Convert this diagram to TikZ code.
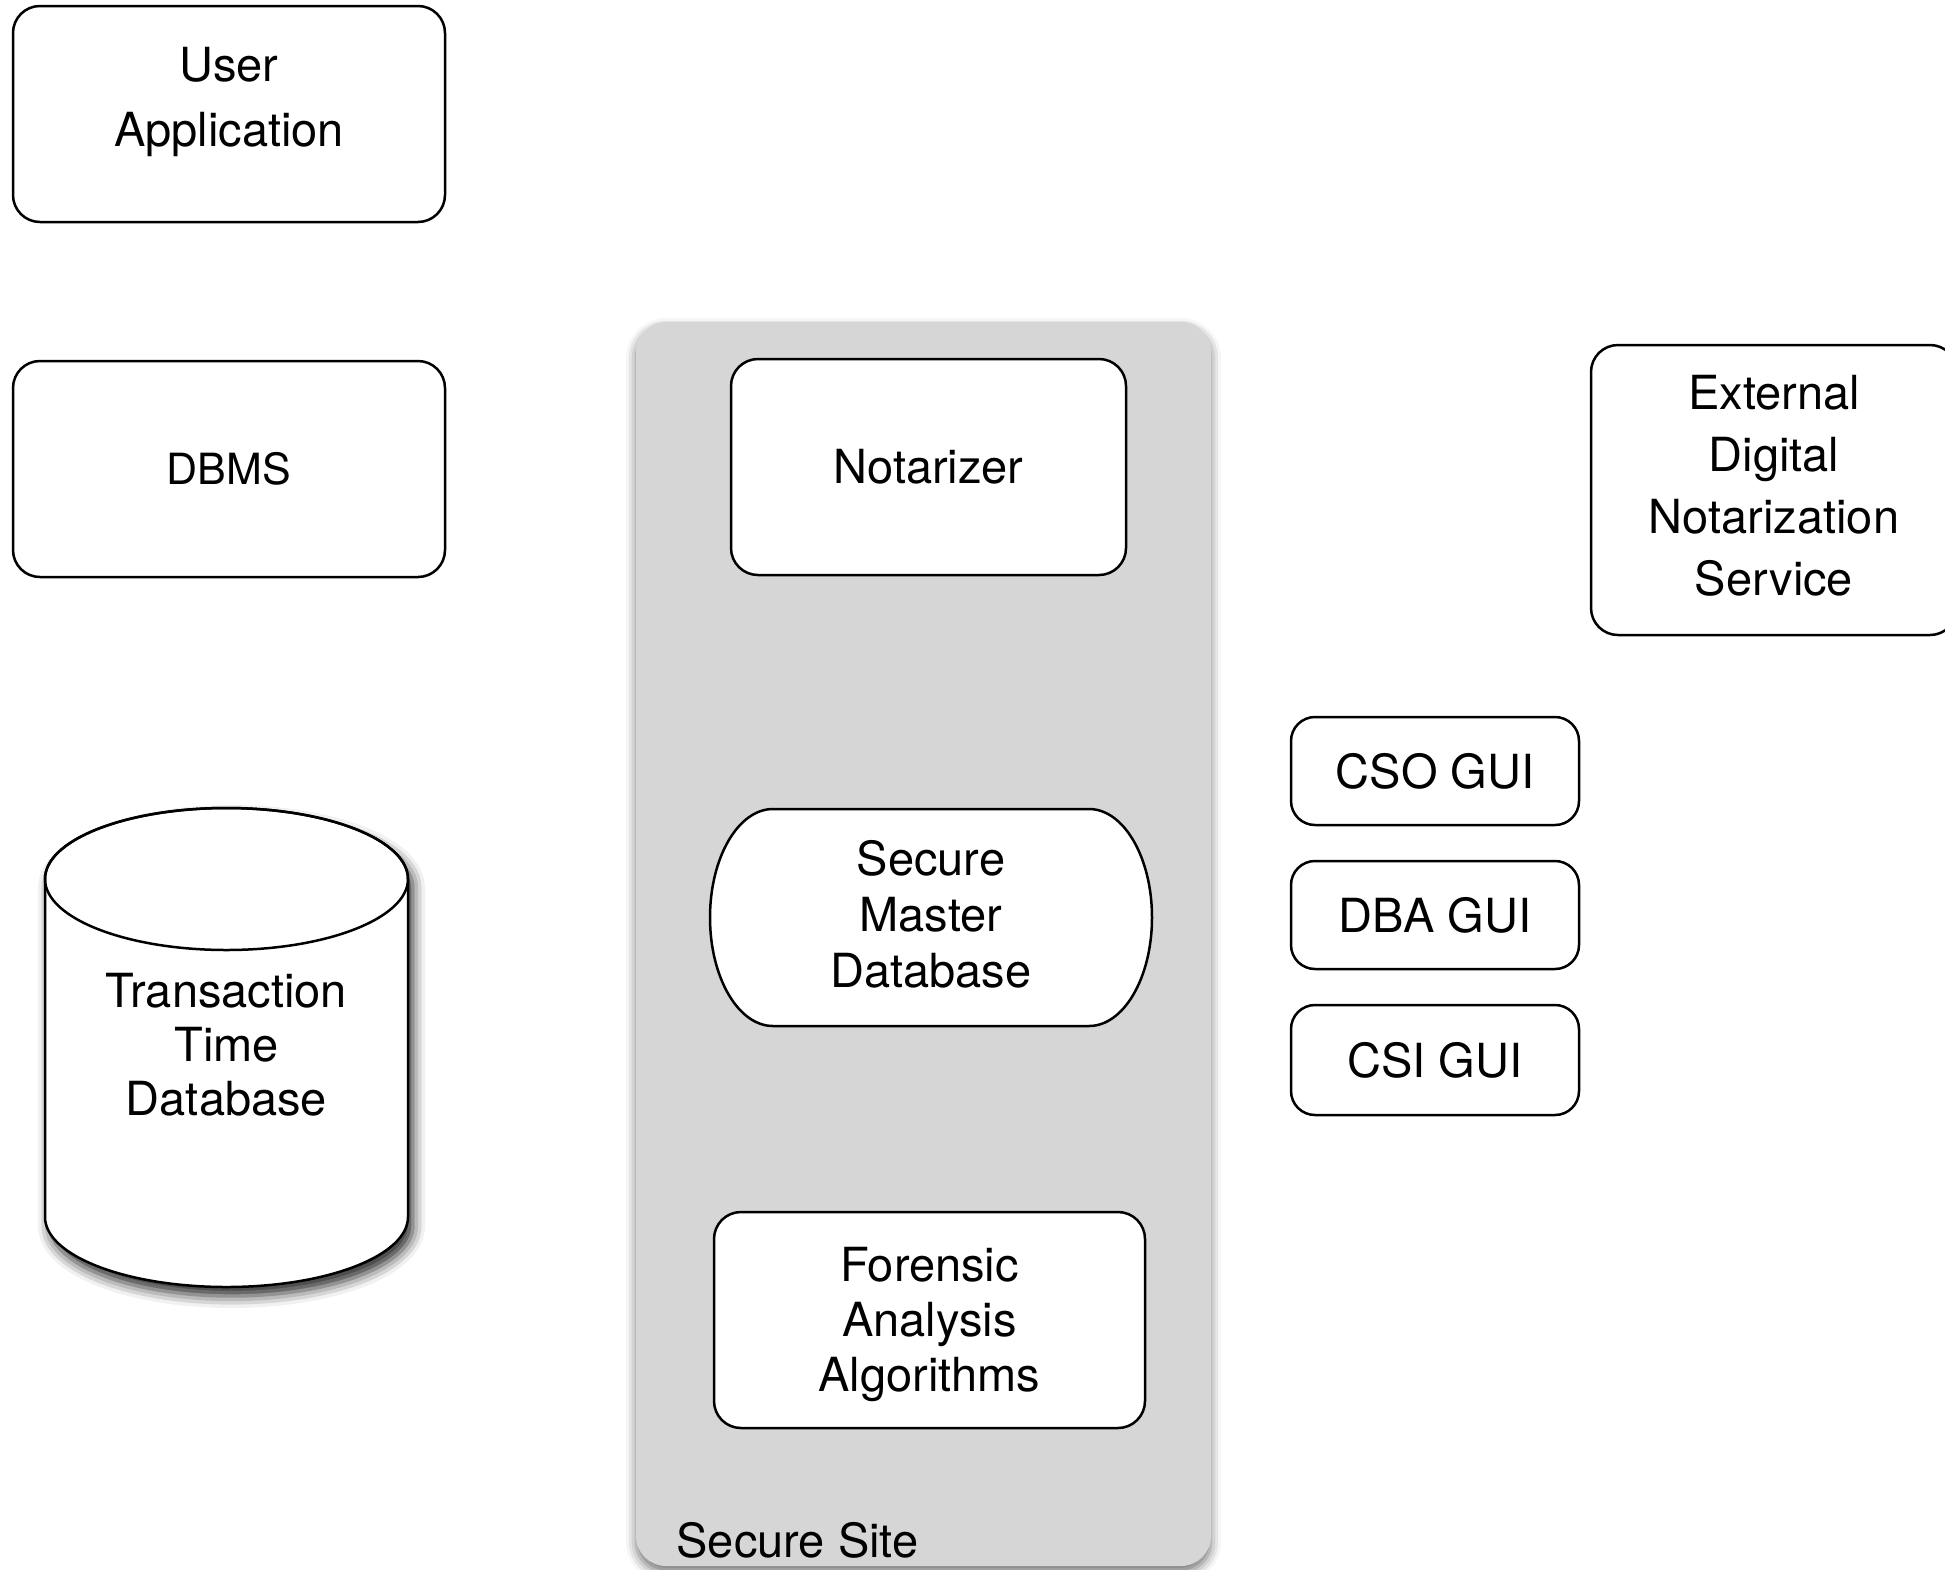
\documentclass[tikz,border=0pt]{standalone}
\usepackage{fontspec}
\setmainfont{TeX Gyre Heros}
\usepackage{tikz}
\usetikzlibrary{positioning,shadows.blur}

\definecolor{sitegray}{RGB}{214,214,214}

\tikzset{
	box/.style={draw, line width=2.5pt, fill=white, rounded corners=27pt, align=center,
		inner sep=0pt, font=\fontsize{47}{56}\selectfont},
	bigbox/.style={box, minimum width=432pt, minimum height=216pt},
	guibox/.style={box, rounded corners=24pt, minimum width=288pt, minimum height=108pt},
	site/.style={fill=sitegray, rounded corners=30pt, minimum width=575pt, minimum height=1244pt,
		blur shadow={shadow xshift=0pt, shadow yshift=-6pt, shadow blur radius=10pt, shadow opacity=55}},
	dbshadow/.style={blur shadow={shadow xshift=5pt, shadow yshift=-9pt, shadow blur radius=12pt, shadow opacity=85}}
}

\begin{document}
\begin{tikzpicture}[x=1pt, y=-1pt]
	\useasboundingbox (0,0) rectangle (1945,1569);

	% Secure site
	\node[site] (site) at (923.5,944) {};
	\node[anchor=base west, font=\fontsize{47}{56}\selectfont] (sitelabel) at (673,1557) {Secure Site};

	% Left column
	\node[bigbox, text depth=34pt, font=\fontsize{47}{65}\selectfont] (app) at (229,114) {User\\Application};
	\node[bigbox, font=\fontsize{43}{52}\selectfont] (dbms) at (229,469) {DBMS};

	% Transaction time database
	\filldraw[fill=white, line width=2.5pt, dbshadow] (45,879) -- (45,1217)
		arc[start angle=180, end angle=360, x radius=181.5pt, y radius=70pt] -- (408,879)
		arc[start angle=0, end angle=180, x radius=181.5pt, y radius=71pt] -- cycle;
	\draw[line width=2.5pt] (226.5,879) ellipse[x radius=181.5pt, y radius=71pt];
	\node[align=center, font=\fontsize{47}{54}\selectfont] (ttdb) at (226.5,1045) {Transaction\\Time\\Database};

	% Inside the secure site
	\node[box, minimum width=395pt, minimum height=216pt] (notarizer) at (928.5,467) {Notarizer};
	\filldraw[fill=white, line width=2.5pt] (773,809) -- (1089,809)
		arc[start angle=90, end angle=-90, x radius=63pt, y radius=108.5pt] -- (773,1026)
		arc[start angle=270, end angle=90, x radius=63pt, y radius=108.5pt] -- cycle;
	\node[align=center, font=\fontsize{47}{56}\selectfont] (smdb) at (931,914) {Secure\\Master\\Database};
	\node[bigbox, minimum width=431pt, text depth=2pt, font=\fontsize{47}{55}\selectfont] (forensic) at (929.5,1320) {Forensic\\Analysis\\Algorithms};

	% Right column
	\node[box, minimum width=366pt, minimum height=290pt, text depth=10pt, font=\fontsize{47}{62}\selectfont] (extdns) at (1774,490) {External\\Digital\\Notarization\\Service};
	\node[guibox] (cso) at (1435,771) {CSO GUI};
	\node[guibox, below=33.5pt of cso] (dba) {DBA GUI};
	\node[guibox, minimum height=110pt, below=33.5pt of dba] (csi) {CSI GUI};
\end{tikzpicture}
\end{document}
